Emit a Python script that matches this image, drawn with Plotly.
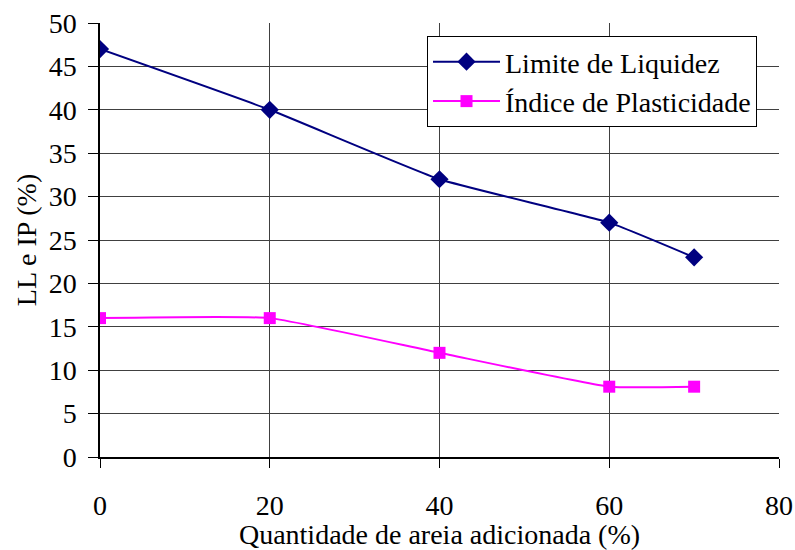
import plotly.graph_objects as go

# Sand content added (%) and the resulting Atterberg limits
areia = [0, 20, 40, 60, 70]
limite_liquidez = [47, 40, 32, 27, 23]
indice_plasticidade = [16, 16, 12, 8.1, 8.1]

x_ticks = [0, 20, 40, 60, 80]
y_ticks = [0, 5, 10, 15, 20, 25, 30, 35, 40, 45, 50]

FONT = "Liberation Serif, Times New Roman, serif"
FSIZE = 28

fig = go.Figure()
fig.add_trace(go.Scatter(
    x=areia, y=limite_liquidez, name="Limite de Liquidez",
    mode="lines+markers",
    line=dict(color="#000080", width=2, shape="spline", smoothing=0.4),
    marker=dict(symbol="diamond", size=14, color="#000080"),
))
fig.add_trace(go.Scatter(
    x=areia, y=indice_plasticidade, name="Índice de Plasticidade",
    mode="lines+markers",
    line=dict(color="#FF00FF", width=2, shape="spline", smoothing=0.4),
    marker=dict(symbol="square", size=12, color="#FF00FF"),
))

fig.update_layout(
    width=795, height=550,
    margin=dict(l=100, r=16, t=23, b=93),
    paper_bgcolor="white", plot_bgcolor="white",
    font=dict(family=FONT, size=FSIZE, color="black"),
    showlegend=True,
    legend=dict(
        x=0.4816, y=0.970, xanchor="left", yanchor="top",
        bgcolor="white", bordercolor="black", borderwidth=1,
        font=dict(family=FONT, size=FSIZE, color="black"),
        itemwidth=67,
    ),
)
fig.update_xaxes(
    range=[0, 80], tickvals=x_ticks, ticktext=[str(v) for v in x_ticks],
    automargin=False,
    showgrid=True, gridcolor="#404040", gridwidth=1,
    showline=True, linecolor="black", linewidth=1.5,
    ticks="outside", ticklen=9, tickcolor="black",
    ticklabelstandoff=14,
    tickfont=dict(family=FONT, size=FSIZE),
    zeroline=False,
    title=dict(text="Quantidade de areia adicionada (%)", standoff=0,
               font=dict(family=FONT, size=FSIZE)),
)
fig.update_yaxes(
    range=[0, 50], tickvals=y_ticks, ticktext=[str(v) for v in y_ticks],
    automargin=False,
    showgrid=True, gridcolor="#404040", gridwidth=1,
    showline=True, linecolor="black", linewidth=1.5,
    ticks="outside", ticklen=10, tickcolor="black",
    ticklabelstandoff=6,
    tickfont=dict(family=FONT, size=FSIZE),
    zeroline=False,
    title=dict(text="LL e IP (%)", standoff=4,
               font=dict(family=FONT, size=FSIZE)),
)

fig.write_html("out.html")
